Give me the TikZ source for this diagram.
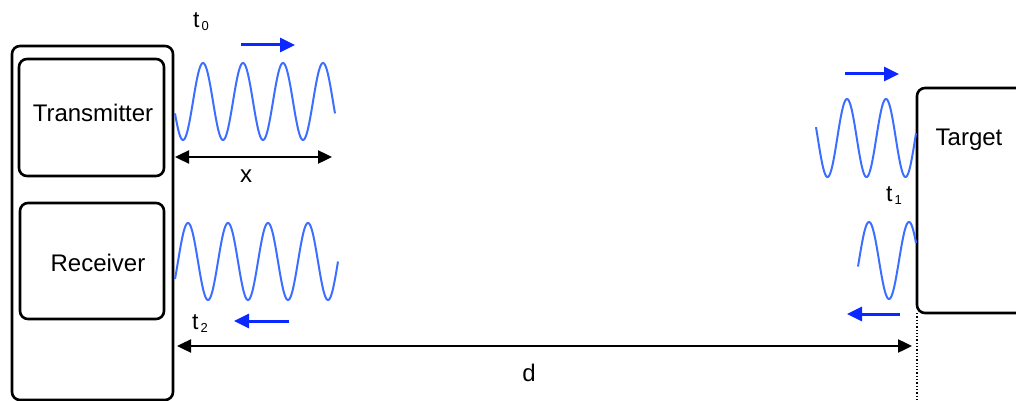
\documentclass[tikz,border=0pt]{standalone}
\usepackage{fontspec}
\setmainfont{Liberation Sans}
\usetikzlibrary{arrows.meta}
\definecolor{wavecol}{RGB}{60,110,255}
\definecolor{arrcol}{RGB}{10,40,255}
\begin{document}
\begin{tikzpicture}[x=1pt,y=-1pt,
  box/.style={draw=black,line width=2.6pt,rounded corners=8pt,inner sep=0pt},
  lbl/.style={font=\fontsize{24}{28}\selectfont,inner sep=0pt},
  tlbl/.style={font=\fontsize{23}{28}\selectfont,inner sep=0pt},
  wave/.style={draw=wavecol,line width=2pt},
  barr/.style={draw=arrcol,line width=3pt,-{Triangle[length=15pt,width=14pt]}},
  karr/.style={draw=black,line width=2.4pt,{Triangle[length=14pt,width=13pt]}-{Triangle[length=14pt,width=13pt]}}
]
\useasboundingbox (0,0) rectangle (1016,401);
\clip (0,0) rectangle (1016,401);
% boxes
\node[box,minimum width=161pt,minimum height=354pt] (outer) at (92.5,223) {};
\node[box,minimum width=145pt,minimum height=117pt] (tx) at (91.5,117.5) {};
\node[lbl] (txl) at (93,113) {Transmitter};
\node[box,minimum width=144pt,minimum height=116pt] (rx) at (92,261) {};
\node[lbl] (rxl) at (98,263) {Receiver};
\node[box,minimum width=130pt,minimum height=225pt] (target) at (982,200.5) {};
\node[lbl] (tgl) at (969,140) {Target};
% waves
\draw[wave] plot[domain=175:335,samples=200] (\x,{101.5-38.5*cos(9*(\x-203))});
\draw[wave] plot[domain=175:338,samples=200] (\x,{261.5-38.5*cos(9*(\x-188))});
\draw[wave] plot[domain=816:916,samples=150] (\x,{138-39*cos(9.23*(\x-847))});
\draw[wave] plot[domain=858:916,samples=100] (\x,{260.5-38.5*cos(9*(\x-869))});
% blue direction arrows
\coordinate (a1s) at (241,45); \coordinate (a1e) at (295,45);
\coordinate (a2s) at (845,74); \coordinate (a2e) at (899,74);
\coordinate (a3s) at (289,321); \coordinate (a3e) at (234,321);
\coordinate (a4s) at (900,314); \coordinate (a4e) at (847,314);
\draw[barr] (a1s) -- (a1e);
\draw[barr] (a2s) -- (a2e);
\draw[barr] (a3s) -- (a3e);
\draw[barr] (a4s) -- (a4e);
% measurement arrows
\coordinate (xs) at (175,157); \coordinate (xe) at (332,157);
\draw[karr] (xs) -- (xe);
\node[lbl] (xl) at (246,176) {x};
\coordinate (ds) at (177,346); \coordinate (de) at (912,346);
\draw[karr] (ds) -- (de);
\node[lbl] (dl) at (529,373) {d};
% dotted line
\coordinate (dt) at (917,313); \coordinate (db) at (917,401);
\draw[black,line width=1.3pt,dotted] (dt) -- (db);
% time labels
\node[tlbl] (t0) at (201,22) {t\hspace{2pt}\raisebox{-3pt}{\fontsize{13}{14}\selectfont 0}};
\node[tlbl] (t1) at (894,196) {t\hspace{2pt}\raisebox{-3pt}{\fontsize{13}{14}\selectfont 1}};
\node[tlbl] (t2) at (200,324) {t\hspace{2pt}\raisebox{-3pt}{\fontsize{13}{14}\selectfont 2}};
\end{tikzpicture}
\end{document}
